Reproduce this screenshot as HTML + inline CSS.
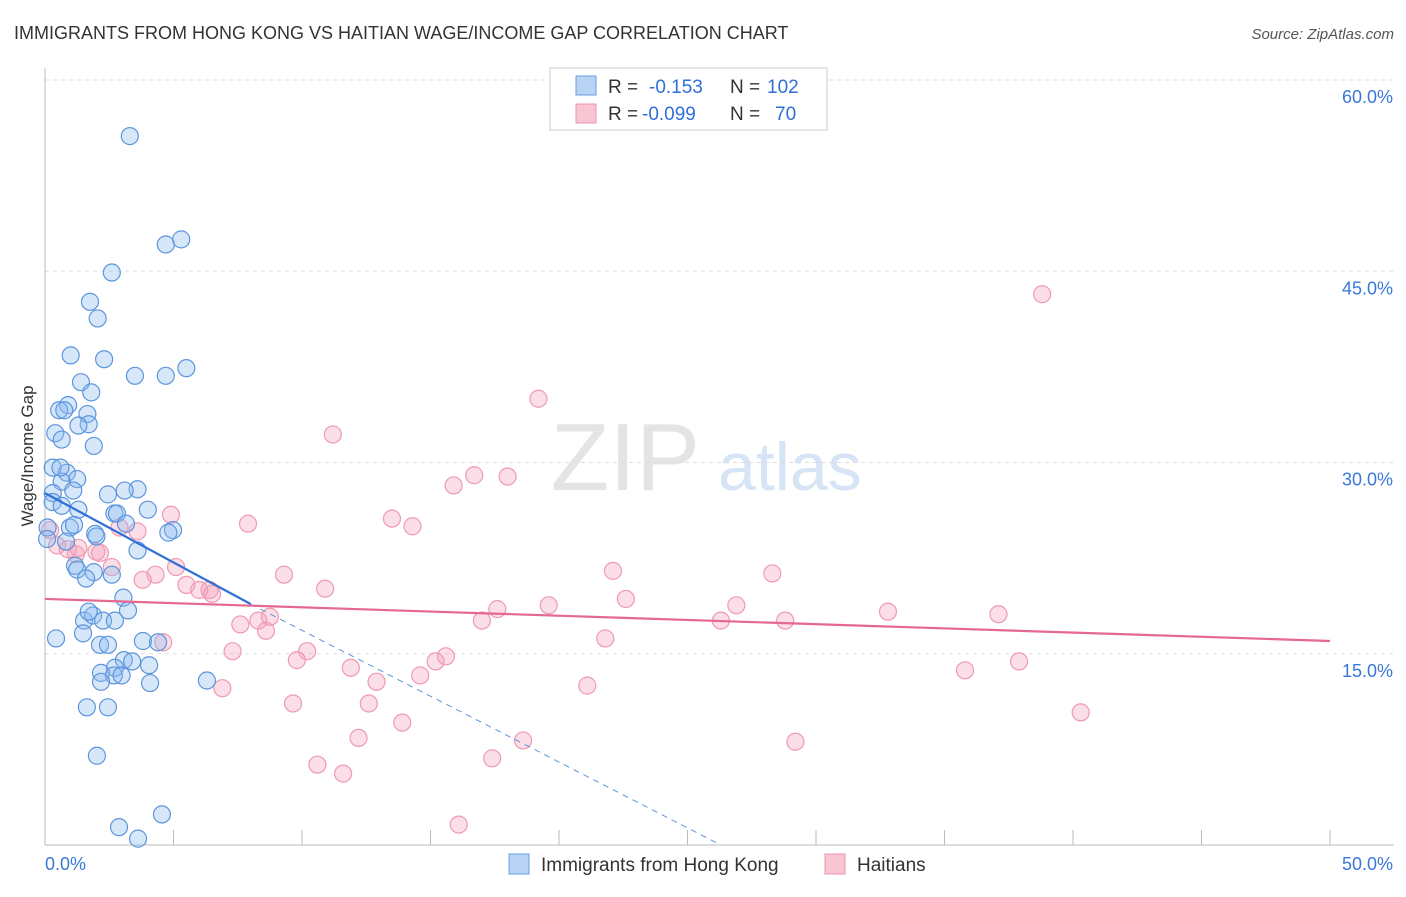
<!DOCTYPE html>
<html><head><meta charset="utf-8"><style>
body{margin:0;background:#fff;font-family:"Liberation Sans",sans-serif}
svg text{font-family:"Liberation Sans",sans-serif}
</style></head><body>
<svg width="1406" height="892" xmlns="http://www.w3.org/2000/svg">
<text x="14" y="39" font-size="18" fill="#333">IMMIGRANTS FROM HONG KONG VS HAITIAN WAGE/INCOME GAP CORRELATION CHART</text>
<text x="1394" y="39" font-size="15" fill="#555" text-anchor="end" font-style="italic">Source: ZipAtlas.com</text>
<text x="700" y="490" font-size="96" fill="#e4e4e4" text-anchor="end" font-family="Liberation Serif">ZIP</text>
<text x="718" y="490" font-size="68" fill="#d6e4f5">atlas</text>
<g id="grid"></g>
<g id="axes"></g>
<text x="33" y="456" font-size="17" fill="#333" text-anchor="middle" transform="rotate(-90 33 456)">Wage/Income Gap</text>
<g id="pts"></g>
<g id="trends"></g>
<g>
<rect x="550" y="68" width="277" height="62" fill="#fff" stroke="#ccc"/>
<rect x="576" y="76" width="20" height="19" fill="#b8d3f3" stroke="#6a9ee0"/>
<rect x="576" y="104" width="20" height="19" fill="#f8c5d3" stroke="#ec94ad"/>
<text x="608" y="93" font-size="19" fill="#333">R = <tspan fill="#2f6fd6" x="649">-0.153</tspan><tspan x="730">N = </tspan><tspan fill="#2f6fd6" x="767">102</tspan></text>
<text x="608" y="120" font-size="19" fill="#333">R = <tspan fill="#2f6fd6" x="642">-0.099</tspan><tspan x="730">N = </tspan><tspan fill="#2f6fd6" x="775">70</tspan></text>
</g>
<g>
<rect x="509" y="854" width="20" height="20" fill="#b8d3f3" stroke="#6a9ee0"/>
<text x="541" y="871" font-size="19" fill="#333">Immigrants from Hong Kong</text>
<rect x="825" y="854" width="20" height="20" fill="#f8c5d3" stroke="#ec94ad"/>
<text x="857" y="871" font-size="19" fill="#333">Haitians</text>
</g>
</svg>
<script>
const yTicks=[15,30,45,60];
const xTickLabels=["0.0%","50.0%"];
const blueX=[3.3,4.7,5.3,2.6,1.75,2.05,1.0,2.3,3.5,4.7,5.5,1.4,1.8,0.9,0.55,0.75,1.65,1.7,1.3,0.4,0.65,1.9,0.3,0.85,1.25,0.65,0.6,0.3,1.1,0.3,0.65,1.3,3.6,3.1,2.45,4.0,2.7,2.8,3.15,0.97,1.13,1.95,0.1,0.08,0.82,2.0,4.98,4.8,3.6,1.17,1.25,1.9,2.6,1.6,3.05,3.23,1.52,1.87,1.7,2.26,2.72,1.48,2.14,2.45,3.81,4.4,0.43,3.07,3.39,4.05,2.72,2.18,2.68,2.98,2.18,4.09,6.3,1.63,2.45,2.02,2.88,3.62,4.55];
const blueY=[55.6,47.1,47.5,44.9,42.6,41.3,38.4,38.1,36.8,36.8,37.4,36.3,35.5,34.5,34.1,34.1,33.8,33.0,32.9,32.3,31.8,31.3,29.6,29.2,28.7,28.5,29.6,27.6,27.8,26.9,26.6,26.3,27.9,27.8,27.5,26.3,26.0,26.0,25.2,24.9,25.1,24.4,24.9,24.0,23.8,24.2,24.7,24.5,23.1,21.9,21.6,21.4,21.2,20.9,19.4,18.4,17.6,18.0,18.3,17.6,17.6,16.6,15.7,15.7,16.0,15.9,16.2,14.5,14.4,14.1,13.9,13.5,13.3,13.3,12.8,12.7,12.9,10.8,10.8,7.0,1.4,0.5,2.4];
const pinkX=[38.8,19.2,11.2,16.7,18.0,15.9,13.5,14.3,4.9,7.9,2.9,3.6,0.47,0.89,2.0,1.2,2.14,2.6,5.1,4.3,3.8,9.3,22.1,28.3,5.5,6.0,6.4,6.5,10.9,22.6,19.6,17.6,17.0,26.9,26.3,28.8,32.8,37.1,8.75,8.3,7.6,8.6,4.6,21.8,7.3,10.2,9.8,15.6,15.2,11.9,14.6,12.9,6.9,21.1,35.8,37.9,9.65,12.6,13.9,40.3,12.2,18.6,29.2,10.6,11.6,17.4,16.1,0.2,1.3];
const pinkY=[43.2,35.0,32.2,29.0,28.9,28.2,25.6,25.0,25.9,25.2,24.9,24.6,23.5,23.2,23.0,22.8,22.9,21.8,21.8,21.2,20.8,21.2,21.5,21.3,20.4,20.0,20.0,19.7,20.1,19.3,18.8,18.5,17.6,18.8,17.6,17.6,18.3,18.1,17.9,17.6,17.3,16.8,15.9,16.2,15.2,15.2,14.5,14.8,14.4,13.9,13.3,12.8,12.3,12.5,13.7,14.4,11.1,11.1,9.6,10.4,8.4,8.2,8.1,6.3,5.6,6.8,1.6,24.7,23.3];
const blueTrend=[[0,27.6],[8,18.9]], blueDash=[[8,18.9],[26.3,0]];
const pinkTrend=[[0,19.3],[50,16.0]];
const NS="http://www.w3.org/2000/svg";
const sx=v=>45+v*25.7, sy=v=>845-v*12.75;
function mk(tag,attrs,parent){const e=document.createElementNS(NS,tag);for(const k in attrs)e.setAttribute(k,attrs[k]);parent.appendChild(e);return e;}
const grid=document.getElementById('grid'),axes=document.getElementById('axes'),pts=document.getElementById('pts'),tr=document.getElementById('trends');
yTicks.forEach(t=>{
 const l=mk('line',{x1:45,x2:1394,y1:sy(t),y2:sy(t),stroke:'#ddd','stroke-dasharray':'4,4'},grid);
 
 
 const tx=mk('text',{x:1393,y:sy(t)+23,'font-size':18,fill:'#3a78d8','text-anchor':'end'},grid);
 tx.textContent=t.toFixed(1)+'%';
 
 
});
const ya=mk('line',{x1:45,x2:45,y1:68,y2:845,stroke:'#bbb'},axes);


const xa=mk('line',{x1:45,x2:1394,y1:845,y2:845,stroke:'#bbb'},axes);


for(let i=0;i<=10;i++){const tk=mk('line',{x1:sx(i*5),x2:sx(i*5),y1:830,y2:845,stroke:'#bbb'},axes);
 
 }
xTickLabels.forEach((s,i)=>{const t=mk('text',{x:i?1393:45,y:870,'font-size':18,fill:'#3a78d8','text-anchor':i?'end':'start'},axes);t.textContent=s;
 
 });
pinkX.forEach((x,i)=>{const c=mk('circle',{cx:sx(x),cy:sy(pinkY[i]),r:8.5,fill:'rgba(244,160,185,0.35)',stroke:'#ee9ab2','stroke-width':1.2},pts);
 
 });
blueX.forEach((x,i)=>{const c=mk('circle',{cx:sx(x),cy:sy(blueY[i]),r:8.5,fill:'rgba(140,185,240,0.35)',stroke:'#5d95dc','stroke-width':1.2},pts);
 
 });
const b1=mk('line',{x1:sx(blueTrend[0][0]),y1:sy(blueTrend[0][1]),x2:sx(blueTrend[1][0]),y2:sy(blueTrend[1][1]),stroke:'#2f6fd6','stroke-width':2.2},tr);


const b2=mk('line',{x1:sx(blueDash[0][0]),y1:sy(blueDash[0][1]),x2:sx(blueDash[1][0]),y2:sy(blueDash[1][1]),stroke:'#5d95dc','stroke-width':1,'stroke-dasharray':'6,5'},tr);


const p1=mk('line',{x1:sx(pinkTrend[0][0]),y1:sy(pinkTrend[0][1]),x2:sx(pinkTrend[1][0]),y2:sy(pinkTrend[1][1]),stroke:'#e5688f','stroke-width':2.2},tr);


</script>
</body></html>
